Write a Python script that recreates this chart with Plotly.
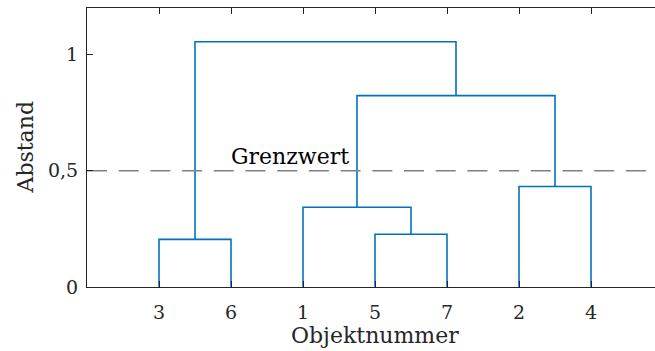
import plotly.graph_objects as go

# Leaf order along the x axis (object numbers)
leaf_order = [3, 6, 1, 5, 7, 2, 4]

# Linkage table: (cluster a, cluster b, merge distance); ids 1..7 are objects,
# ids 8.. are the clusters created by each row in turn
link_a = [3, 5, 1, 2, 10, 8]
link_b = [6, 7, 9, 4, 11, 12]
link_h = [0.205, 0.227, 0.343, 0.432, 0.823, 1.055]

threshold = 0.5
threshold_label = "Grenzwert"
y_tickvals = [0, 0.5, 1]
y_ticktext = ["0", "0,5", "1"]

n_obj = len(leaf_order)
pos = {obj: i + 1 for i, obj in enumerate(leaf_order)}
height = {obj: 0.0 for obj in leaf_order}

xs, ys = [], []
for k, (a, b, h) in enumerate(zip(link_a, link_b, link_h)):
    new_id = n_obj + 1 + k
    xa, xb = pos[a], pos[b]
    xs += [xa, xa, xb, xb, None]
    ys += [height[a], h, h, height[b], None]
    pos[new_id] = (xa + xb) / 2
    height[new_id] = h

FONT = "DejaVu Serif"
AX = "#262626"

fig = go.Figure()
fig.add_trace(go.Scatter(
    x=xs, y=ys, mode="lines",
    line=dict(color="#0072BD", width=1.6),
    hoverinfo="skip", showlegend=False,
))
fig.add_trace(go.Scatter(
    x=[0, n_obj + 1], y=[threshold, threshold], mode="lines",
    line=dict(color="#808080", width=1.5, dash="20px,11.7px"),
    hoverinfo="skip", showlegend=False,
))

W, H = 655, 351
ml, mr, mt, mb = 87, 0, 8, 64
px_per_unit = 72
x_max = (W - ml - mr) / px_per_unit

fig.update_layout(
    width=W, height=H,
    margin=dict(l=ml, r=mr, t=mt, b=mb),
    plot_bgcolor="white", paper_bgcolor="white",
    font=dict(family=FONT, size=19, color=AX),
    xaxis=dict(
        range=[0, x_max],
        tickvals=list(range(1, n_obj + 1)),
        ticktext=[str(v) for v in leaf_order],
        ticks="inside", ticklen=6, tickwidth=1, tickcolor=AX,
        showline=True, linecolor=AX, linewidth=1, mirror="ticks",
        showgrid=False, zeroline=False,
        ticklabelstandoff=8,
    ),
    yaxis=dict(
        range=[0, 1.2],
        tickvals=y_tickvals, ticktext=y_ticktext,
        ticks="inside", ticklen=6, tickwidth=1, tickcolor=AX,
        showline=True, linecolor=AX, linewidth=1, mirror=False,
        showgrid=False, zeroline=False,
        ticklabelstandoff=4,
    ),
    annotations=[
        dict(text="Objektnummer", x=(n_obj + 1) / 2, xref="x", y=0, yref="paper",
             xanchor="center", yanchor="top", yshift=-34, showarrow=False,
             font=dict(family=FONT, size=22, color=AX)),
        dict(text="Abstand", x=0, xref="paper", y=0.5, yref="paper",
             xanchor="center", yanchor="middle", xshift=-62, textangle=-90,
             showarrow=False, font=dict(family=FONT, size=22, color=AX)),
        dict(text=threshold_label, x=2, xref="x", y=threshold, yref="y",
             xanchor="left", yanchor="bottom", xshift=-2, yshift=0, showarrow=False,
             font=dict(family=FONT, size=22, color="black")),
    ],
)

fig.write_html("out.html")
